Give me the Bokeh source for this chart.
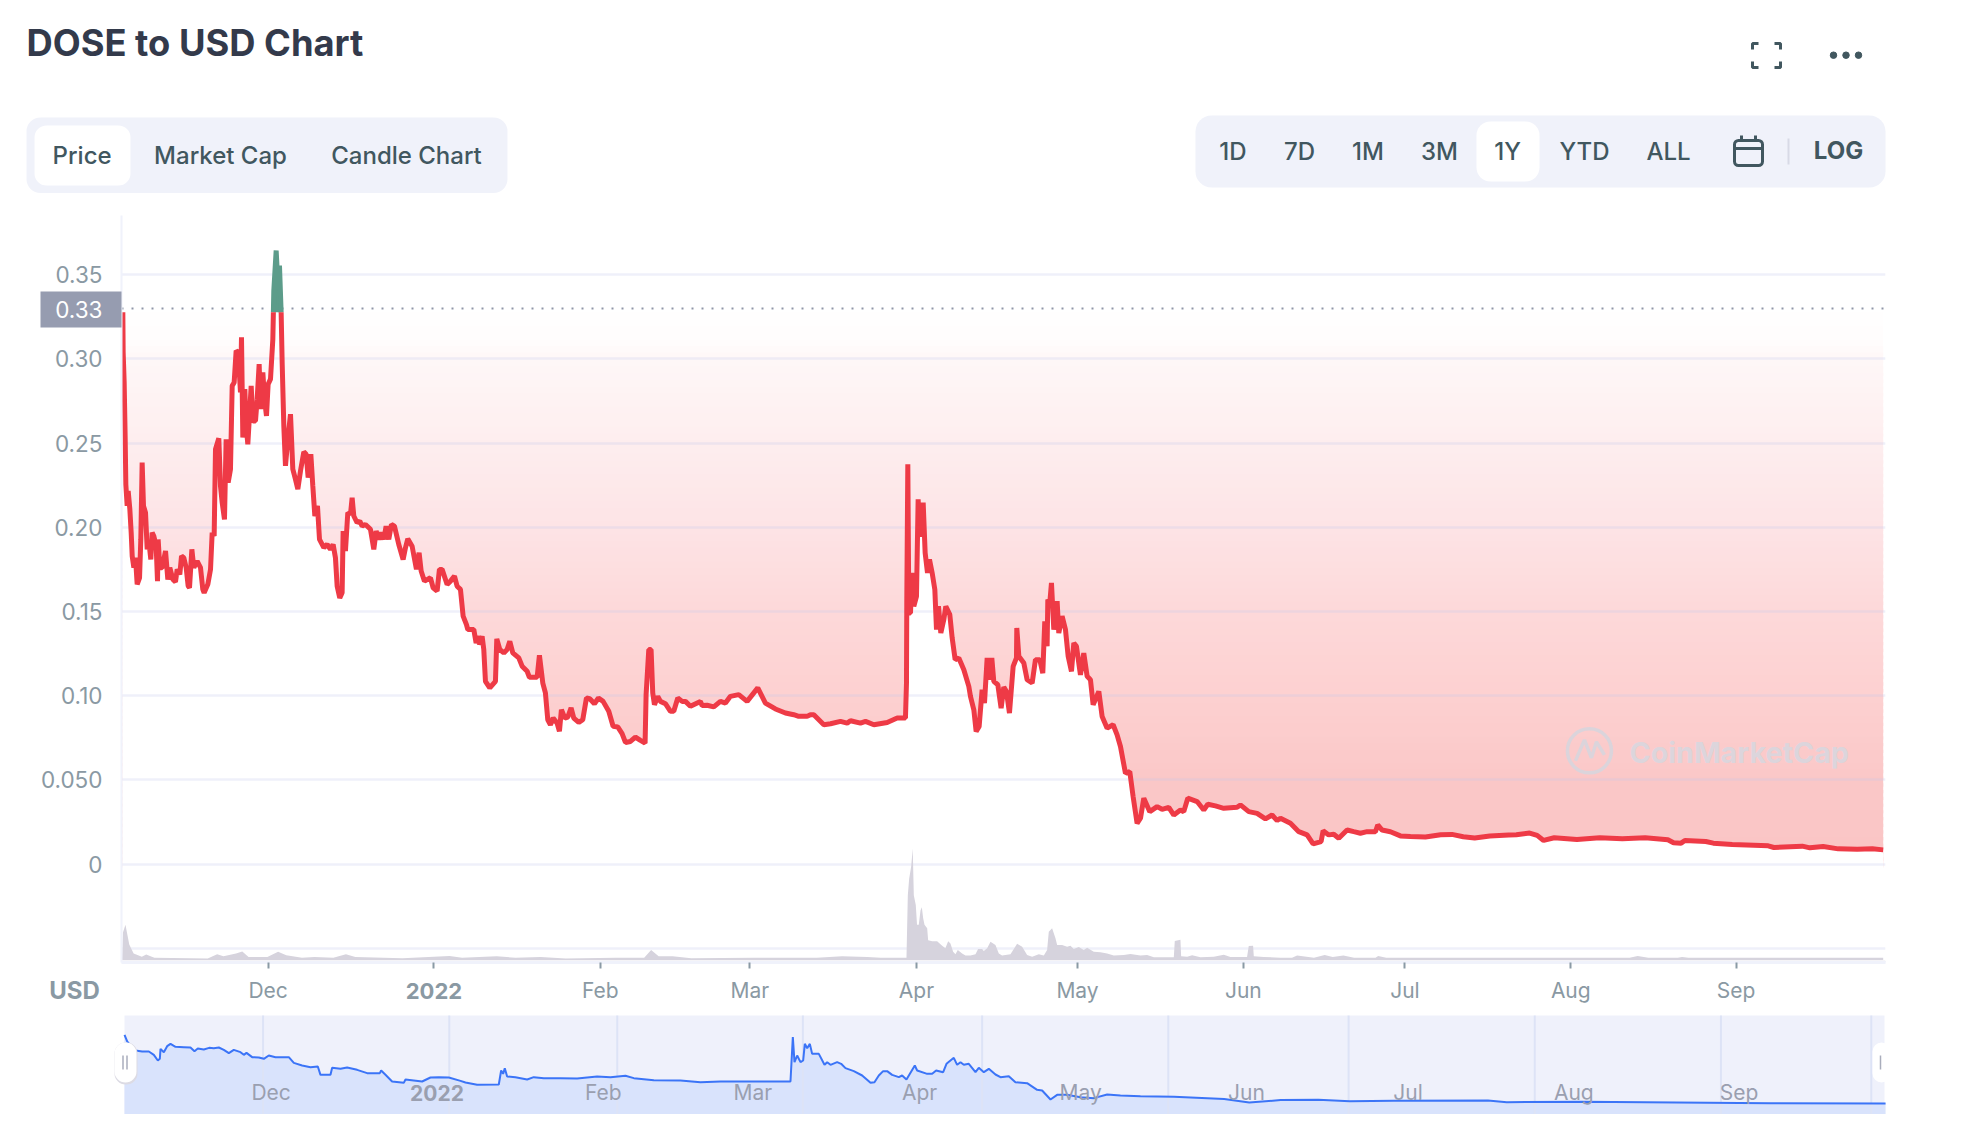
import numpy as np
from bokeh.core.properties import value
from bokeh.embed import file_html
from bokeh.layouts import column, row
from bokeh.models import FixedTicker, Label, Range1d
from bokeh.plotting import figure
from bokeh.resources import INLINE

# ---------------------------------------------------------------- data
# (days since 2021-11-01, price in USD)
price_series = [
(2.85,.3277),(2.91,.3039),(3.10,.2860),(3.29,.2523),(3.41,.2255),(3.66,.2127),(3.85,.2216),(4.16,.2107),(4.41,.1968),(4.60,.1829),
(4.91,.1760),(5.22,.1819),(5.53,.1661),(5.97,.1700),(6.21,.1928),(6.46,.2384),(6.71,.2127),(7.09,.2087),(7.40,.1869),(7.71,.1918),
(8.08,.1809),(8.33,.1968),(8.64,.1948),(9.08,.1889),(9.33,.1680),(9.45,.1928),(9.77,.1760),(10.20,.1760),(10.83,.1859),(11.26,.1690),
(11.63,.1760),(12.20,.1690),(12.69,.1676),(13.01,.1750),(13.50,.1720),(13.82,.1829),(14.25,.1819),(14.69,.1760),(15.06,.1651),(15.31,.1641),
(15.75,.1869),(16.12,.1760),(16.74,.1799),(17.37,.1760),(17.80,.1631),(18.05,.1611),(18.74,.1661),(19.24,.1750),(19.55,.1968),(19.92,.1948),
(20.17,.2464),(20.79,.2529),(21.10,.2246),(21.42,.2146),(21.85,.2047),(22.16,.2523),(22.54,.2265),(22.97,.2345),(23.29,.2840),(23.66,.2860),
(24.03,.3049),(24.41,.3039),(24.84,.2801),(25.03,.3128),(25.28,.2533),(25.65,.2821),(25.90,.2603),(26.21,.2493),(26.59,.2702),(26.84,.2840),
(27.15,.2632),(27.65,.2632),(27.96,.2761),(28.33,.2969),(28.58,.2702),(29.02,.2920),(29.33,.2761),(29.70,.2662),(30.01,.2850),(30.45,.2880),
(30.89,.3118),(30.99,.3277),(31.07,.3406),(31.51,.3644),(31.88,.3416),(32.13,.3554),(32.44,.3277),(32.63,.2979),(32.94,.2603),(33.25,.2365),
(33.69,.2523),(34.19,.2672),(34.62,.2345),(35.12,.2285),(35.56,.2226),(36.06,.2335),(36.68,.2448),(37.12,.2434),(37.49,.2295),(37.99,.2434),
(38.36,.2246),(38.74,.2067),(39.23,.2127),(39.61,.1928),(40.42,.1879),(41.04,.1899),(41.66,.1868),
(42.16,.1898),(42.59,.1819),(42.91,.1650),(43.40,.1581),(43.84,.1611),(44.03,.1978),(44.46,.1859),(44.90,.2087),(45.40,.2077),(45.71,.2176),
(46.02,.2067),(46.64,.2027),(47.14,.2037),(47.58,.2007),(48.20,.2017),(49.14,.1988),(49.76,.1869),(50.20,.1978),(50.69,.1928),(51.13,.1968),
(51.63,.1928),(52.06,.2007),(52.56,.1928),(53.06,.2017),(53.62,.2007),(54.43,.1898),(55.24,.1809),(55.68,.1878),(56.11,.1932),(56.92,.1888),
(57.73,.1750),(58.23,.1849),(58.61,.1740),(59.23,.1680),(60.35,.1700),(60.85,.1641),(61.60,.1621),(62.03,.1750),(62.53,.1750),(63.47,.1660),
(64.09,.1680),(64.84,.1710),(65.33,.1650),(65.96,.1631),(66.46,.1472),(67.08,.1422),(67.33,.1393),(68.45,.1393),(68.89,.1313),(69.38,.1353),
(69.51,.1303),(70.01,.1353),(70.32,.1274),(70.63,.1085),(71.44,.1046),(72.50,.1085),(72.75,.1337),(73.31,.1274),(74.06,.1254),(74.68,.1274),
(75.18,.1323),(75.74,.1254),(76.86,.1224),(77.48,.1175),(78.42,.1145),(78.85,.1109),(80.29,.1109),(80.72,.1240),(81.35,.1075),(81.84,.1016),
(82.28,.0857),(82.78,.0827),(83.28,.0867),(84.02,.0837),(84.46,.0788),(84.83,.0917),(85.46,.0867),(86.02,.0873),(86.64,.0927),(87.14,.0867),
(88.07,.0841),(88.82,.0857),(89.51,.0986),(90.13,.0982),(91.00,.0952),(91.75,.0986),(92.62,.0966),(93.68,.0907),(94.49,.0818),(95.36,.0814),
(96.17,.0774),(96.80,.0722),(97.73,.0728),(98.66,.0754),(99.60,.0734),(100.47,.0718),(100.66,.1006),(101.16,.1274),(101.59,.1274),(101.90,.1016),
(102.22,.0946),(102.84,.0996),(103.34,.0966),(104.27,.0952),(105.21,.0907),(105.83,.0907),(106.58,.0986),(107.39,.0966),(108.01,.0966),(108.94,.0937),
(110.81,.0966),(111.12,.0941),(112.06,.0943),(113.31,.0933),(114.55,.0966),(115.49,.0956),(116.42,.0996),(117.98,.1006),(119.54,.0966),(121.53,.1046),
(122.96,.0956),(124.83,.0921),(126.70,.0897),(128.26,.0887),(129.19,.0877),(130.75,.0877),(131.37,.0887),
(132.01,.0886),(133.88,.0827),(135.13,.0833),(136.99,.0847),(138.24,.0837),(138.86,.0851),(140.73,.0837),(141.67,.0847),(143.23,.0827),(145.72,.0841),
(147.59,.0867),(149.14,.0867),(149.33,.1075),(149.39,.1571),(149.58,.2374),(149.77,.1491),(150.08,.1491),(150.39,.1729),(150.70,.1531),(151.20,.1590),
(151.51,.2166),(151.82,.1957),(152.07,.1957),(152.45,.2146),(152.82,.1848),(153.26,.1729),(153.63,.1809),(154.13,.1729),(154.63,.1630),(154.94,.1392),
(155.31,.1531),(155.75,.1372),(156.31,.1452),(156.68,.1531),(157.43,.1481),(157.87,.1343),(158.43,.1214),(159.11,.1224),(160.05,.1154),(160.98,.1055),
(161.29,.0996),(161.92,.0916),(162.35,.0787),(162.91,.0817),(163.47,.1035),(163.91,.0956),(164.41,.1224),(164.84,.1095),(165.28,.1224),(165.65,.1085),
(166.40,.1065),(167.02,.0926),(167.52,.1051),(168.02,.1025),(168.58,.0896),(169.27,.1174),(169.89,.1224),(169.95,.1402),(170.33,.1234),(171.26,.1194),
(171.88,.1095),(172.82,.1075),(173.44,.1214),(174.25,.1214),(174.81,.1134),(175.18,.1442),(175.62,.1293),(175.75,.1571),(176.12,.1551),(176.43,.1670),
(176.87,.1392),(177.49,.1561),(177.80,.1372),(178.42,.1472),(179.05,.1392),(179.55,.1234),(180.17,.1144),(180.61,.1313),(181.10,.1293),(181.85,.1124),
(182.47,.1253),(183.10,.1115),(183.72,.1095),
(184.22,.0946),(185.28,.1025),(185.90,.0876),(186.84,.0807),(187.96,.0827),(188.70,.0767),(189.33,.0698),(190.26,.0539),(191.07,.0549),(191.69,.0401),
(192.44,.0242),(193.07,.0272),(193.69,.0391),(194.81,.0311),(196.18,.0341),(197.11,.0325),(198.36,.0337),(199.30,.0291),(200.54,.0321),(201.16,.0311),
(201.91,.0391),(203.66,.0371),(204.90,.0321),(205.65,.0355),(207.08,.0345),(208.64,.0331),(211.13,.0337),(211.75,.0351),(213.31,.0311),(214.87,.0301),
(216.43,.0268),(217.67,.0291),(218.61,.0258),(219.23,.0272),(221.10,.0242),(222.66,.0192),(224.22,.0173),(225.34,.0119),(226.83,.0133),(227.21,.0198),
(228.26,.0173),(229.20,.0177),(230.13,.0153),(231.69,.0202),(232.94,.0192),(234.18,.0183),(235.43,.0192),(236.99,.0192),(237.42,.0232),(238.23,.0202),
(239.79,.0192),(241.66,.0167),(243.53,.0163),
(246.33,.0160),(249.17,.0174),(251.29,.0176),(253.41,.0162),(255.54,.0154),(258.37,.0166),(261.91,.0172),(263.33,.0174),(265.80,.0184),(267.22,.0170),
(268.42,.0140),(270.41,.0156),(274.65,.0146),(278.90,.0156),(283.15,.0150),(287.40,.0156),(291.65,.0144),(292.71,.0126),(294.12,.0124),(294.83,.0140),
(298.73,.0134),(300.14,.0124),(303.68,.0116),(310.41,.0108),(311.47,.0098),(316.78,.0106),(318.20,.0096),(320.67,.0104),(323.50,.0090),(327.05,.0088),
(329.88,.0090),(331.90,.0084)]

# (days since 2021-11-01, trading volume, relative units)
volume_series = [
(2.7,2),(2.87,25),(3.34,32),(4.05,14),(4.87,6),(6.40,3),(7.22,5),(8.74,2),(18.72,1.3),(20.48,5.2),(21.66,3.3),(24.01,5.9),(25.18,7.8),(26.35,2.6),
(29.87,2.6),(31.87,7.5),(33.40,4.2),(36.33,2),(38.68,2.6),(42.20,2),(44.55,5.2),(46.31,2.6),(55.12,1.6),(63.92,3.6),(66.27,2),(72.72,3.3),(76.25,2),
(80.94,2.6),(85.64,1.3),(95.03,2),(100.3,2),(101.6,9.1),(103.0,3.3),(105.6,3.3),(109.1,1.6),(120.9,2),(132.6,2),(137.3,3.3),(142.0,2.6),(144.5,2.1),
(149.33,2.1),(149.58,59),(149.83,74),(150.2,85),(150.5,101.5),(150.7,59),(151.07,50),(151.3,32),(151.63,32),(151.95,45),(152.2,48),(152.45,38),(152.7,32),
(153.2,29),(153.38,18),(154.13,17),(155.06,17),(156.0,13),(156.6,10.6),(157.12,17),(157.55,15),(158.05,7.6),(158.49,5.2),(158.92,9),(159.73,6),(160.36,4),
(161.29,4),(162.23,5.2),(162.72,10),(163.47,10),(163.78,8.2),(164.41,10.6),(165.03,16.7),(165.96,13.6),(166.59,6),(167.2,4),(168.77,5.2),(170.01,14.8),
(170.95,12),(171.88,4.5),(172.82,3),(174.06,5.2),(175.0,4),(175.62,9),(175.93,25.8),(176.55,28.8),(177.18,19.7),(177.49,13.6),(178.42,13.6),(179.36,12),
(179.98,13),(180.6,10),(181.54,11.8),(182.47,9),(183.1,11.2),(184.34,7.6),(185.59,7),(186.83,6),(188.08,4),(189.95,4.5),(191.2,5.5),(193.06,4),(194.31,4.5),
(195.56,2.4),(199.3,2.4),(199.48,17.3),(200.54,18.5),(200.67,3.3),(201.8,3),(202.72,4.2),(204.28,2.4),(206.77,3),(208.64,4.8),(209.89,2.7),(212.99,2.7),
(213.31,12.7),(214.12,13),(214.25,3.3),(216.1,2.7),(219.2,2.1),(221.4,2.1),(222.35,4),(225.5,2.1),(227.5,4.5),(229,2.6),(231,4),(233,2.1),(237,2.1),
(237.5,3.6),(239,2.1),(284.5,2.1),(286,3.6),(288,2.1),(293.5,2.1),(294.3,2.8),(295.5,2.1),(331.9,2.1)]

# navigator (overview) series: (position in days, price in USD)
overview_series = [
(2.6,.2428),(3.1,.2202),(3.7,.2066),(4.65,.1897),(5.9,.1863),(7.15,.1863),(8.08,.1750),(8.83,.1558),(9.2,.1614),(9.33,.1953),(9.95,.1840),(10.57,.2043),
(11.2,.2122),(12.13,.2021),(13.69,.2009),(14.93,.1998),(15.68,.1874),(16.3,.1964),(17.42,.1930),(18.42,.1987),(19.29,.1976),(20.23,.1998),(21.16,.1919),
(22.1,.1806),(23.03,.1919),(24.28,.1840),(24.9,.1750),(25.4,.1817),(26.46,.1671),(27.7,.1659),(28.64,.1614),(29.57,.1727),(30.82,.1671),(32.38,.1671),
(33.31,.1671),(34.25,.1478),(35.8,.1388),(37.36,.1332),(38.73,.1354),(39.23,.1072),(41.1,.1072),(41.41,.1309),(42.97,.1275),(44.21,.1320),(46.08,.1241),
(47.95,.1128),(50.32,.1128),(50.57,.1219),(51.38,.1072),(52.62,.0846),(54.8,.0800),(55.12,.0913),(56.67,.0880),(58.23,.0846),(59.79,.0981),(61.35,.0993),
(63.22,.0981),(65.4,.0868),(66.33,.0812),(68.51,.0733),(72.56,.0744),(73.0,.1219),(73.37,.1105),(73.68,.1298),(74.12,.1015),(75.67,.0993),(77.86,.0913),
(79.1,.0993),(80.97,.0959),(84.08,.0959),(87.2,.0947),(90.94,.1015),(93.43,.0993),(96.23,.1038),(97.8,.0959),(101.54,.0891),(106.52,.0880),(110.26,.0823),
(114.0,.0846),(120.23,.0846),(127.08,.0846),(127.52,.2349),(127.83,.1501),(128.33,.1727),(128.95,.1501),(129.45,.1557),(129.76,.2122),(130.2,.1976),
(130.7,.2122),(131.13,.1783),(132.38,.1783),(133.44,.1411),(133.94,.1501),(134.56,.1411),(135.8,.1501),(136.55,.1445),(137.36,.1298),(138.92,.1196),
(140.48,.1049),(142.04,.0800),(142.78,.0823),(143.59,.1049),(144.4,.1196),(145.15,.1196),(146.08,.1072),(147.33,.0993),(147.95,.1049),(148.76,.0913),
(150.32,.1388),(150.76,.1219),(152.63,.1105),(153.56,.1105),(154.31,.1219),(155.62,.1162),(156.24,.1445),(157.61,.1648),(158.23,.1411),(158.86,.1501),
(159.48,.1411),(160.41,.1445),(161.66,.1162),(162.28,.1309),(163.22,.1162),(164.15,.1275),(165.4,.1083),(166.33,.0993),(167.89,.1026),(169.13,.0823),
(171.31,.0789),(173.18,.0563),(174.12,.0541),(175.68,.0235),(176.92,.0394),(178.79,.0394),(181.28,.0315),(183.78,.0281),(186.27,.0405),(188.76,.0371),
(192.5,.0348),(198.75,.0326),(208.14,.0254),(212.84,.0132),(218.71,.0217),(225.75,.0229),(231.62,.0180),(239.84,.0193),(257.45,.0205),(260.97,.0144),
(275.06,.0157),(292.67,.0132),(310.28,.0108),(331.77,.0096)]
overview_grid_days = [28.5, 63.3, 94.7, 129.4, 162.9, 197.7, 231.4, 266.2, 301.0, 329.1]

y_ticks = [0, 0.05, 0.10, 0.15, 0.20, 0.25, 0.30, 0.35]
y_tick_labels = ["0", "0.050", "0.10", "0.15", "0.20", "0.25", "0.30", "0.35"]
grid_levels = [-0.05, 0, 0.05, 0.10, 0.15, 0.20, 0.25, 0.30, 0.35]
month_days = [30, 61, 92.1, 120.05, 151.2, 181.3, 212.3, 242.5, 273.5, 304.4]
month_labels = ["Dec", "2022", "Feb", "Mar", "Apr", "May", "Jun", "Jul", "Aug", "Sep"]
reference_price = 0.3302
reference_label = "0.33"
chart_title = "DOSE to USD Chart"
left_tabs = ["Price", "Market Cap", "Candle Chart"]
range_buttons = ["1D", "7D", "1M", "3M", "1Y", "YTD", "ALL"]

# ---------------------------------------------------------------- style
FONT = value("Inter")
FONT_MED = value("'Inter Medium', Inter")
INK = "#41575f"
AXIS_TXT = "#8a99a3"
PANEL = "#f0f2fa"
GRID = "#f0f2fb"
RED = "#ee3a46"
GREEN = "#5c9c8a"

price_day = np.array([a for a, _ in price_series])
price_usd = np.array([b for _, b in price_series])
vol_day = [a for a, _ in volume_series]
vol_val = [b for _, b in volume_series]
ov_day = [a for a, _ in overview_series]
ov_val = [b for _, b in overview_series]

# ---------------------------------------------------------------- header strip (page pixels)
hdr = figure(width=1954, height=197, x_range=Range1d(8, 1962), y_range=Range1d(205, 8),
             x_axis_type=None, y_axis_type=None, toolbar_location=None, output_backend="svg",
             min_border=0, outline_line_color=None)
hdr.grid.visible = False
hdr.text([26], [42.5], text=[chart_title], text_font=FONT, text_font_style="bold", text_font_size="36.3px",
         text_color="#333a4b", text_baseline="middle")
hdr.quad(left=[26], right=[507], top=[117], bottom=[192.5], fill_color=PANEL, line_color=None, border_radius=14)
hdr.quad(left=[34], right=[130], top=[125], bottom=[185], fill_color="white", line_color=None, border_radius=12)
hdr.text([81.6, 220, 406], [154.5]*3, text=left_tabs, text_font=FONT_MED, text_font_size="24px", text_color=INK,
         text_align="center", text_baseline="middle")
hdr.quad(left=[1195], right=[1885], top=[115], bottom=[187], fill_color=PANEL, line_color=None, border_radius=16)
hdr.quad(left=[1476], right=[1539], top=[121], bottom=[181], fill_color="white", line_color=None, border_radius=14)
hdr.text([1232.5, 1299, 1367.5, 1439, 1507, 1584, 1668], [151]*7, text=range_buttons, text_font=FONT_MED,
         text_font_size="24px", text_color=INK, text_align="center", text_baseline="middle")
hdr.text([1838], [150], text=["LOG"], text_font=FONT, text_font_style="bold", text_font_size="24px",
         text_color=INK, text_align="center", text_baseline="middle")
hdr.segment([1788], [138], [1788], [164], line_color="#d8dae6", line_width=2)
hdr.quad(left=[1734], right=[1762], top=[140], bottom=[165], fill_color=None, line_color=INK, line_width=3, border_radius=4)
hdr.segment([1734, 1741, 1755], [148, 135, 135], [1762, 1741, 1755], [148, 141, 141], line_color=INK, line_width=3)
hdr.multi_line([[1752, 1752, 1758], [1774, 1780, 1780], [1752, 1752, 1758], [1774, 1780, 1780]],
               [[49, 43, 43], [43, 43, 49], [61, 67, 67], [67, 67, 61]], line_color=INK, line_width=3)
hdr.scatter([1833, 1845.5, 1858], [54.7]*3, size=6.5, color=INK)

# ---------------------------------------------------------------- main chart
X0, X1 = 2.60, 332.33
YTOP, YBOT = 0.3852, -0.0585
PX_DAY = 5.35
PX_USD = 84.05 / 0.05
day_of = lambda px: 30 + (px - 267.6) / PX_DAY
usd_of = lambda py: (864 - py) / PX_USD

p = figure(width=1954, height=800, x_range=Range1d(X0, X1), y_range=Range1d(YBOT, YTOP),
           toolbar_location=None, output_backend="svg", min_border_left=113, min_border_right=77,
           min_border_top=10, min_border_bottom=41, outline_line_color=None)
p.grid.visible = False
p.extra_y_ranges = {"volume": Range1d(-2.3, 678)}

levels = np.linspace(0.3277, 0.0, 83)
stop_y = [0.3277, 0.31, 0.30, 0.25, 0.20, 0.15, 0.10, 0.05, 0.0]
stop_r = [255, 255, 255, 254, 253, 253, 253, 251, 250]
stop_g = [255, 253, 248, 238, 228, 217, 209, 200, 197]
stop_b = [255, 253, 248, 239, 230, 218, 209, 200, 197]
mid = (levels[:-1] + levels[1:]) / 2
cols = ["#%02x%02x%02x" % (int(np.interp(m, stop_y[::-1], stop_r[::-1])),
                           int(np.interp(m, stop_y[::-1], stop_g[::-1])),
                           int(np.interp(m, stop_y[::-1], stop_b[::-1]))) for m in mid]
p.quad(left=price_day[0], right=price_day[-1], top=levels[:-1], bottom=levels[1:] - 0.002,
       fill_color=cols, line_color=None)
p.varea(x=price_day, y1=YBOT, y2=np.minimum(price_usd, 0.3277), fill_color="white")
p.hspan(y=grid_levels, line_color="#c6c8ee", line_alpha=0.28, line_width=2.5)
p.hspan(y=[reference_price], line_color="#8f96a8", line_width=2, line_dash="2 8")

p.varea(x=vol_day, y1=0, y2=vol_val, fill_color="#d6d3dd", y_range_name="volume")
p.segment([X0], [usd_of(961.5)], [X1], [usd_of(961.5)], line_color="#d6d3dd", line_width=2)

p.scatter([day_of(1589)], [usd_of(751)], size=44, marker="circle", fill_color=None, line_color="#dbd4db", line_width=3.5)
p.line([day_of(x) for x in (1575, 1584, 1591, 1596, 1604)], [usd_of(y) for y in (761, 740, 758, 742, 755)],
       line_color="#dbd4db", line_width=3.5)
p.add_layout(Label(x=day_of(1629), y=usd_of(753), text="CoinMarketCap", text_font="Inter", text_font_style="bold",
                   text_font_size="28.7px", text_color="#dcd5dc", text_baseline="middle"))

high = np.where(price_usd >= 0.3277, price_usd, np.nan)
low = np.where(price_usd <= 0.3277, price_usd, np.nan)
peak = (price_day > 30.9) & (price_day < 32.5)
p.varea(x=price_day[peak], y1=0.3277, y2=price_usd[peak], fill_color=GREEN)
p.line(price_day, high, line_color=GREEN, line_width=5)
p.line(price_day, low, line_color=RED, line_width=5)

ax = p.xaxis[0]
ax.ticker = FixedTicker(ticks=month_days)
ax.major_label_overrides = {d: ("" if t == "2022" else t) for d, t in zip(month_days, month_labels)}
ax.major_label_text_font = "Inter"
ax.major_label_text_font_size = "21px"
ax.major_label_text_color = AXIS_TXT
ax.major_tick_line_color = "#8a9aa5"
ax.major_tick_line_width = 2
ax.major_tick_in = 0
ax.major_tick_out = 6
ax.minor_tick_line_color = None
ax.axis_line_color = GRID
ax.axis_line_width = 3
ax.major_label_standoff = 9

ay = p.yaxis[0]
ay.ticker = FixedTicker(ticks=y_ticks)
ay.major_label_overrides = dict(zip(y_ticks, y_tick_labels))
ay.major_label_text_font = "Inter"
ay.major_label_text_font_size = "22.5px"
ay.major_label_text_color = AXIS_TXT
ay.major_tick_line_color = None
ay.minor_tick_line_color = None
ay.axis_line_color = GRID
ay.axis_line_width = 2
ay.major_label_standoff = 13

# ---------------------------------------------------------------- transparent layer over the main chart's margins
ov = figure(width=1954, height=800, x_range=Range1d(8, 1962), y_range=Range1d(1005, 205),
            x_axis_type=None, y_axis_type=None, toolbar_location=None, output_backend="svg",
            min_border=0, outline_line_color=None, background_fill_color=None, border_fill_color=None)
ov.grid.visible = False
ov.quad(left=[40], right=[121], top=[291], bottom=[327], fill_color="#969cb0", line_color=None)
ov.text([102], [309], text=[reference_label], text_font=FONT, text_font_size="22.5px", text_color="white",
        text_align="right", text_baseline="middle")
ov.text([74], [990], text=["USD"], text_font=FONT, text_font_style="bold", text_font_size="24px",
        text_color=AXIS_TXT, text_align="center", text_baseline="middle")
ov.text([267.6 + (month_days[1] - 30) * PX_DAY], [990.5], text=[month_labels[1]], text_font=FONT, text_font_style="bold",
        text_font_size="22px", text_color=AXIS_TXT, text_align="center", text_baseline="middle")

# ---------------------------------------------------------------- navigator
nday_of = lambda px: 30 + (px - 270.6) / PX_DAY
nval_of = lambda py: 0.01 + (1103 - py) / 295
n = figure(width=1954, height=109, x_range=Range1d(nday_of(8), nday_of(1962)),
           y_range=Range1d(nval_of(1114), nval_of(1005)), x_axis_type=None, y_axis_type=None,
           toolbar_location=None, output_backend="svg", min_border=0, outline_line_color=None)
n.grid.visible = False
n.quad(left=[nday_of(124)], right=[nday_of(1884)], top=[nval_of(1015)], bottom=[nval_of(1114)],
       fill_color="#eff1fb", line_color=None)
n.varea(x=ov_day, y1=nval_of(1114), y2=ov_val, fill_color="#d9e3fc")
n.segment(overview_grid_days, [nval_of(1015)]*10, overview_grid_days, [nval_of(1114)]*10,
          line_color="#dde3f6", line_width=2)
n.line(ov_day, ov_val, line_color="#3b74f7", line_width=2)
for d, t in zip(month_days, month_labels):
    n.text([d], [nval_of(1092)], text=[t], text_font=FONT, text_font_size="21px",
           text_font_style="bold" if t == "2022" else "normal", text_color="#9a9fb0",
           text_align="center", text_baseline="middle")
n.quad(left=[nday_of(114)], right=[nday_of(137)], top=[nval_of(1042)], bottom=[nval_of(1084)],
       fill_color="#dcdbe4", line_color=None, border_radius=11)
n.quad(left=[nday_of(114)], right=[nday_of(136)], top=[nval_of(1042)], bottom=[nval_of(1082)],
       fill_color="white", line_color=None, border_radius=11)
n.quad(left=[nday_of(1872)], right=[nday_of(1890)], top=[nval_of(1042)], bottom=[nval_of(1082)],
       fill_color="white", line_color=None, border_radius=11)
n.segment([nday_of(122.5), nday_of(126.5), nday_of(1880)], [nval_of(1055)]*3,
          [nday_of(122.5), nday_of(126.5), nday_of(1880)], [nval_of(1069)]*3,
          line_color="#a9adbc", line_width=1.5)

page = column(row(hdr), p, row(ov, styles={"margin-top": "-800px"}), row(n), spacing=0, margin=(8, 0, 0, 8))
open("out.html", "w").write(file_html(page, INLINE))
